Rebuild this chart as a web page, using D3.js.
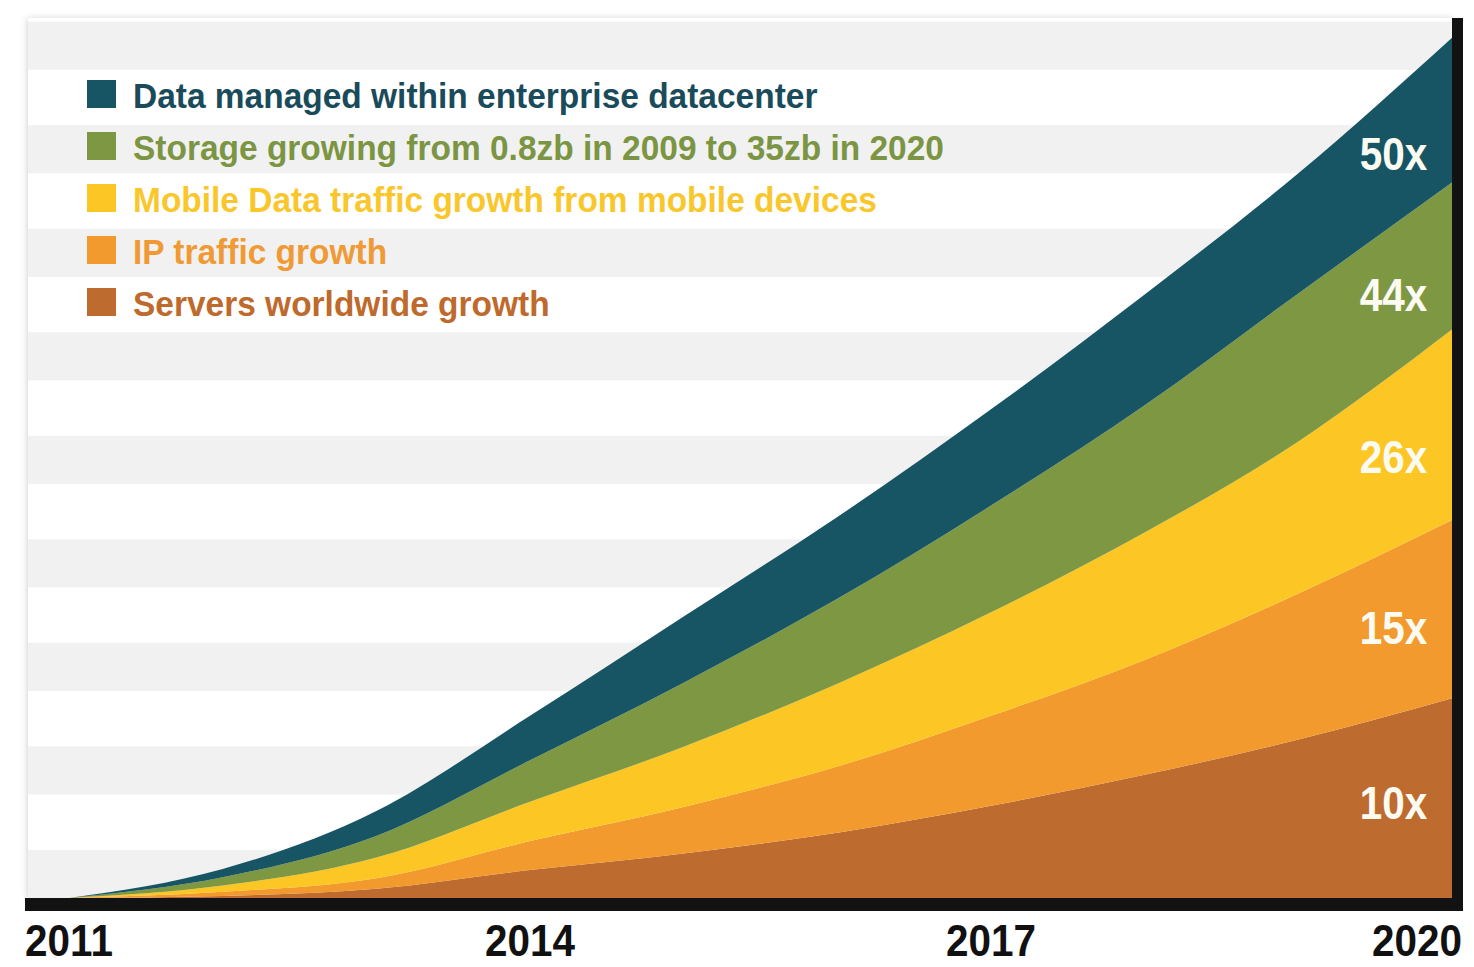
<!DOCTYPE html>
<html>
<head>
<meta charset="utf-8">
<script src="https://cdn.jsdelivr.net/npm/d3@7"></script>
<style>
  html, body { margin: 0; padding: 0; background: #ffffff; }
  svg { display: block; }
  text { font-family: "Liberation Sans", Arial, "DejaVu Sans", sans-serif; font-weight: bold; }
</style>
</head>
<body>
<svg id="chart" width="1474" height="967"></svg>
<script>
// ---- data (relative volume index, stacked bottom to top) ----
const years      = [2011, 2012, 2013, 2014, 2015, 2016, 2017, 2018, 2019, 2020];
const servers    = [0, 0.2, 0.9, 2.7, 4.3, 6.3, 8.9, 11.9, 15.3, 19.3];
const ipTraffic  = [0, 0.4, 1.0, 2.8, 4.5, 6.4, 8.7, 11.1, 14.1, 17.2];
const mobileData = [0, 0.6, 2.0, 3.8, 5.8, 8.0, 10.0, 12.3, 14.7, 18.4];
const storage    = [0, 0.8, 2.1, 4.0, 6.2, 8.2, 10.3, 12.3, 14.3, 14.2];
const datacenter = [0, 0.8, 2.4, 4.3, 6.4, 7.9, 9.3, 10.7, 11.6, 14.0];

const seriesKeys   = ["servers", "ipTraffic", "mobileData", "storage", "datacenter"];
const seriesNames  = [
  "Servers worldwide growth",
  "IP traffic growth",
  "Mobile Data traffic growth from mobile devices",
  "Storage growing from 0.8zb in 2009 to 35zb in 2020",
  "Data managed within enterprise datacenter"
];
const growthLabels = ["10x", "15x", "26x", "44x", "50x"];
const tickYears    = [2011, 2014, 2017, 2020];

// ---- styling ----
const colors = {
  servers:    "#bd6b2f",
  ipTraffic:  "#f29a2d",
  mobileData: "#fcc624",
  storage:    "#7e9743",
  datacenter: "#175564"
};
const textColors = {
  servers:    "#bf6a2d",
  ipTraffic:  "#f09a35",
  mobileData: "#f9c72b",
  storage:    "#7b9543",
  datacenter: "#1a4b5b"
};

const frame = { left: 28, top: 18, right: 1452, bottom: 898 };
const svg = d3.select("#chart");

const rows = years.map((yr, i) => ({
  year: yr,
  servers: servers[i],
  ipTraffic: ipTraffic[i],
  mobileData: mobileData[i],
  storage: storage[i],
  datacenter: datacenter[i]
}));

const x = d3.scaleLinear().domain([2011, 2020]).range([frame.left + 41, frame.right]);
const y = d3.scaleLinear().domain([0, 85]).range([frame.bottom, frame.top]);

// horizontally condensed text, like a narrow bold face
function condensed(sel, k) {
  sel.attr("transform", function () {
    const t = d3.select(this);
    return `translate(${t.attr("data-x")},${t.attr("data-y")}) scale(${k},1)`;
  });
}

// ---- frame with soft shadow ----
const defs = svg.append("defs");
const f = defs.append("filter").attr("id", "shadow")
  .attr("x", "-3%").attr("y", "-3%").attr("width", "106%").attr("height", "106%");
f.append("feDropShadow").attr("dx", 0).attr("dy", 1).attr("stdDeviation", 3.5)
  .attr("flood-color", "#000").attr("flood-opacity", 0.22);

svg.append("rect")
  .attr("x", frame.left).attr("y", frame.top)
  .attr("width", frame.right - frame.left).attr("height", frame.bottom - frame.top)
  .attr("fill", "#ffffff").attr("filter", "url(#shadow)");

// ---- horizontal banding ----
const bandStep = 10, grayBand = 4.65;
svg.append("g").selectAll("rect")
  .data(d3.range(0, 85, bandStep))
  .join("rect")
  .attr("x", frame.left)
  .attr("width", frame.right - frame.left)
  .attr("y", d => y(d + grayBand))
  .attr("height", d => y(d) - y(d + grayBand))
  .attr("fill", "#f1f1f1");

// ---- stacked areas ----
const stack = d3.stack().keys(seriesKeys);
const layers = stack(rows);

const area = d3.area()
  .x(d => x(d.data.year))
  .y0(d => y(d[0]))
  .y1(d => y(d[1]))
  .curve(d3.curveMonotoneX);

svg.append("g").selectAll("path")
  .data(layers)
  .join("path")
  .attr("d", area)
  .attr("fill", d => colors[d.key]);

// ---- growth multipliers at the right end ----
const labelYear = 2019.62;
const i0 = years.length - 2, i1 = years.length - 1;
const tt = (labelYear - years[i0]) / (years[i1] - years[i0]);
svg.append("g").selectAll("text")
  .data(layers)
  .join("text")
  .attr("data-x", x(labelYear))
  .attr("data-y", d => {
    const lo = d[i0][0] + (d[i1][0] - d[i0][0]) * tt;
    const hi = d[i0][1] + (d[i1][1] - d[i0][1]) * tt;
    return y((lo + hi) / 2) - 3;
  })
  .attr("text-anchor", "middle")
  .attr("dominant-baseline", "central")
  .attr("font-size", 46)
  .attr("fill", "#fbfbf2")
  .text((d, i) => growthLabels[i])
  .call(condensed, 0.88);

// ---- axis line (bottom) and right edge ----
svg.append("rect")
  .attr("x", frame.left - 3).attr("y", y(0))
  .attr("width", frame.right - frame.left + 14).attr("height", 13)
  .attr("fill", "#121212");
svg.append("rect")
  .attr("x", frame.right).attr("y", frame.top)
  .attr("width", 11).attr("height", y(0) + 13 - frame.top)
  .attr("fill", "#121212");

// ---- year labels ----
svg.append("g").selectAll("text")
  .data(tickYears)
  .join("text")
  .attr("data-x", (d, i) => i === tickYears.length - 1 ? x(d) + 10 : x(d))
  .attr("data-y", y(0) + 58)
  .attr("text-anchor", (d, i) => i === tickYears.length - 1 ? "end" : "middle")
  .attr("font-size", 44)
  .attr("fill", "#111111")
  .text(d => d)
  .call(condensed, 0.92);

// ---- legend (top to bottom: datacenter ... servers) ----
const legendOrder = seriesKeys.slice().reverse();
const legend = svg.append("g");
const legendRow = d3.scalePoint().domain(legendOrder).range([108, 316]);

legend.selectAll("rect")
  .data(legendOrder)
  .join("rect")
  .attr("x", 87)
  .attr("y", d => legendRow(d) - 28)
  .attr("width", 29).attr("height", 28)
  .attr("fill", d => colors[d]);

legend.selectAll("text")
  .data(legendOrder)
  .join("text")
  .attr("data-x", 133)
  .attr("data-y", d => legendRow(d))
  .attr("font-size", 36)
  .attr("fill", d => textColors[d])
  .text(d => seriesNames[seriesKeys.indexOf(d)])
  .call(condensed, 0.93);
</script>
</body>
</html>
